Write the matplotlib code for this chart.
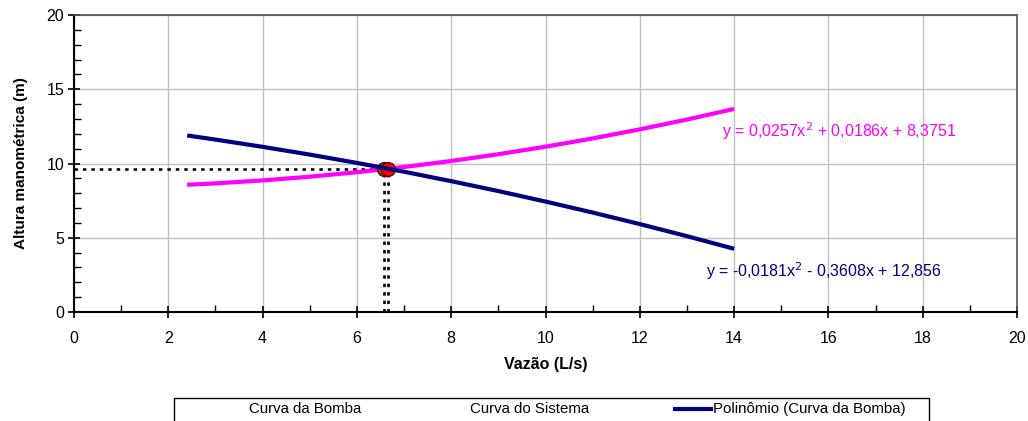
import matplotlib
matplotlib.use("Agg")
import matplotlib.pyplot as plt
from matplotlib.lines import Line2D
from matplotlib.patches import Rectangle
from matplotlib.ticker import MultipleLocator

plt.rcParams['font.family'] = ['Liberation Sans', 'DejaVu Sans']

# Data (trendline values)
vazao = [2.4, 3, 4, 5, 6, 7, 8, 9, 10, 11, 12, 13, 14]
curva_bomba = [11.886, 11.611, 11.123, 10.600, 10.040, 9.444, 8.811, 8.143,
               7.438, 6.697, 5.920, 5.107, 4.257]
curva_sistema = [8.568, 8.662, 8.861, 9.111, 9.412, 9.765, 10.169, 10.624,
                 11.131, 11.689, 12.299, 12.960, 13.673]
ponto_x = [6.575, 6.67]
ponto_y = [9.63, 9.66]
eq_sistema = "y = 0,0257x$^2$ + 0,0186x + 8,3751"
eq_bomba = "y = -0,0181x$^2$ - 0,3608x + 12,856"
x_ticks = [0, 2, 4, 6, 8, 10, 12, 14, 16, 18, 20]
y_ticks = [0, 5, 10, 15, 20]
legend_labels = ["Curva da Bomba", "Curva do Sistema", "Polinômio (Curva da Bomba)"]

NAVY = "#000080"
MAG = "#FF00FF"

fig = plt.figure(figsize=(10.28, 4.21), dpi=100)
ax = fig.add_axes([74/1028, 1-312/421, (1017-74)/1028, (312-15)/421])

ax.set_xlim(0, 20)
ax.set_ylim(0, 20)
ax.set_xticks(x_ticks)
ax.set_yticks(y_ticks)
ax.xaxis.set_minor_locator(MultipleLocator(1))
ax.yaxis.set_minor_locator(MultipleLocator(1))
ax.grid(True, which='major', color='#c0c0c0', linewidth=1)
ax.set_axisbelow(True)

for s in ['top', 'right']:
    ax.spines[s].set_color('#555555')
    ax.spines[s].set_linewidth(1.2)
for s in ['left', 'bottom']:
    ax.spines[s].set_color('black')
    ax.spines[s].set_linewidth(1.5)

ax.tick_params(which='major', direction='inout', length=8, width=1.2,
               labelsize=11.5)
ax.tick_params(axis='y', which='major', pad=3)
ax.tick_params(axis='x', which='major', pad=9.5)
ax.tick_params(which='minor', direction='in', length=5, width=1.0)

# dotted guide lines
dots = (0, (1.3, 1.9))
ax.plot([0, ponto_x[0]], [ponto_y[0], ponto_y[0]], color='black', lw=1.9,
        linestyle=dots, zorder=3)
for px, py in zip(ponto_x, ponto_y):
    ax.plot([px, px], [0, py], color='black', lw=1.9, linestyle=dots, zorder=3)

ax.plot(vazao, curva_sistema, color=MAG, lw=3, zorder=4, solid_capstyle='butt')
ax.plot(ponto_x[0], ponto_y[0], 'o', ms=10, mfc='#cc2200', mec='#222222', mew=1, zorder=5)
ax.plot(ponto_x[1], ponto_y[1], 'o', ms=10, mfc='#ff0000', mec='#550000', mew=0.8, zorder=5)
ax.plot(vazao, curva_bomba, color=NAVY, lw=3, zorder=6, solid_capstyle='butt')

ax.text(13.75, 12.15, eq_sistema, color=MAG, fontsize=11.5, ha='left', va='center')
ax.text(13.4, 2.75, eq_bomba, color=NAVY, fontsize=11.5, ha='left', va='center')

ax.set_xlabel("Vazão (L/s)", fontsize=11.5, fontweight='bold', labelpad=8)
ax.set_ylabel("Altura manométrica (m)", fontsize=11, fontweight='bold', labelpad=13)

# legend box (bottom partly cut off)
fig.patches.append(Rectangle((174/1028, -0.05), (929-174)/1028, 0.05 + 1-398/421,
                             transform=fig.transFigure, fill=False,
                             edgecolor='black', linewidth=1))
ly = 1 - 409/421
fig.text(249/1028, ly, legend_labels[0], fontsize=10.8, va='center')
fig.text(470/1028, ly, legend_labels[1], fontsize=10.8, va='center')
fig.add_artist(Line2D([675/1028, 711/1028], [ly, ly], color=NAVY, lw=3,
                      transform=fig.transFigure))
fig.text(713/1028, ly, legend_labels[2], fontsize=10.8, va='center')

fig.savefig("out.png", dpi=100)
